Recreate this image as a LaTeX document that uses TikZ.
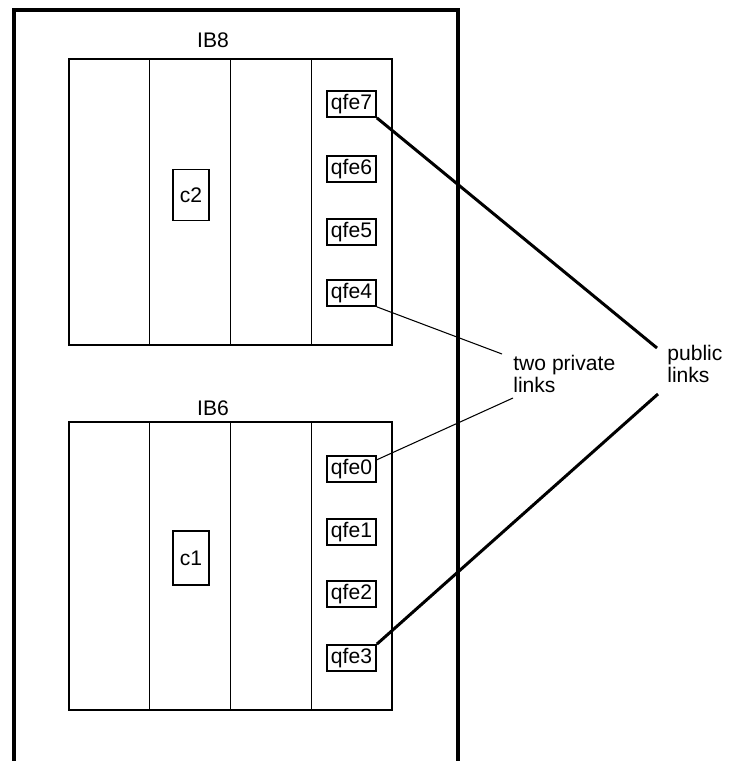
\documentclass[tikz,border=0pt]{standalone}
\usepackage{fontspec}
\setmainfont{Liberation Sans}
\usepackage{tikz}
\usetikzlibrary{positioning,calc}

\begin{document}
\begin{tikzpicture}[
  x=0.02cm, y=-0.02cm,
  every node/.style={font=\fontsize{12}{13}\selectfont},
  rack/.style={draw, line width=1.1pt, minimum width=6.46cm, inner sep=0},
  slot/.style={line width=0.8pt},
  port/.style={draw, line width=1pt, minimum width=0.98cm, minimum height=0.52cm,
    inner sep=0},
  cpu/.style={draw, line width=0.8pt, minimum width=0.72cm, inner sep=0},
  publink/.style={line width=1.7pt},
  privlink/.style={line width=0.6pt},
  note/.style={align=left, anchor=west, inner sep=0}
]
\useasboundingbox (0,0) rectangle (731,761);
% outer cabinet, bottom edge runs off the page
\draw[line width=2.8pt] (14,780) -- (14,10) -- (458,10) -- (458,780);

% upper enclosure
\node[rack, minimum height=5.72cm] (ib8) at (230.5,202) {};
\node (ib8lbl) at (213,40) {IB8};
\foreach \f in {0.25,0.5,0.75}
  \draw[slot] ($(ib8.north west)!\f!(ib8.north east)$)
    -- ($(ib8.south west)!\f!(ib8.south east)$);
\node[cpu, minimum height=1.02cm] (c2) at (191,195) {c2};
\node[port] (qfe7) at (351.5,104) {qfe7};
\node[port] (qfe6) at (351.5,169) {qfe6};
\node[port] (qfe5) at (351.5,232) {qfe5};
\node[port] (qfe4) at (351.5,293) {qfe4};

% lower enclosure
\node[rack, minimum height=5.76cm] (ib6) at (230.5,566) {};
\node (ib6lbl) at (213,408) {IB6};
\foreach \f in {0.25,0.5,0.75}
  \draw[slot] ($(ib6.north west)!\f!(ib6.north east)$)
    -- ($(ib6.south west)!\f!(ib6.south east)$);
\node[cpu, minimum height=1.08cm] (c1) at (191,558) {c1};
\node[port] (qfe0) at (351.5,469) {qfe0};
\node[port] (qfe1) at (351.5,532) {qfe1};
\node[port] (qfe2) at (351.5,594) {qfe2};
\node[port] (qfe3) at (351.5,658) {qfe3};

% labels and links
\node[note] (private) at (513,374) {two private\\links};
\node[note] (public) at (667,364) {public\\links};
\coordinate (privtop) at (502,354);
\coordinate (privbot) at (513,398);
\coordinate (pubtop) at (657,348);
\coordinate (pubbot) at (658,394);

\draw[privlink] (qfe4.south east) -- (privtop);
\draw[privlink] (qfe0.20) -- (privbot);
\draw[publink] (qfe7.south east) -- (pubtop);
\draw[publink] (qfe3.north east) -- (pubbot);
\end{tikzpicture}
\end{document}
